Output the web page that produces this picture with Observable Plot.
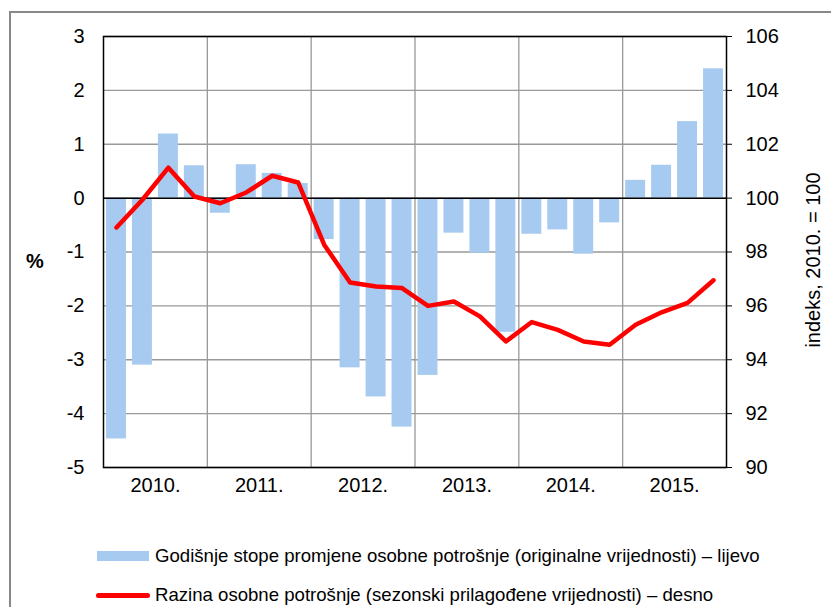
<!DOCTYPE html>
<html>
<head>
<meta charset="utf-8">
<script src="https://cdn.jsdelivr.net/npm/d3@7"></script>
<script src="https://cdn.jsdelivr.net/npm/@observablehq/plot@0.6"></script>
<style>
  html, body { margin: 0; padding: 0; background: #fff; }
  #wrap { position: relative; width: 831px; height: 607px; overflow: hidden; font-family: "Liberation Sans", Arial, sans-serif; color: #000; }
  #outer { position: absolute; left: 9px; top: 11px; width: 900px; height: 700px; border-top: 2px solid #888; border-left: 2px solid #888; box-sizing: border-box; }
  #chart { position: absolute; left: 0; top: 0; }
  .lab { position: absolute; font-size: 20px; white-space: nowrap; }
  .leg { position: absolute; left: 96px; height: 26px; display: flex; align-items: center; font-size: 18.6px; white-space: nowrap; }
  .sw { display: inline-block; }
</style>
</head>
<body>
<div id="wrap">
  <div id="outer"></div>
  <div id="chart"></div>
  <div class="lab" style="left:26px; top:250px; font-weight:bold;">%</div>
  <div class="lab" style="left:813px; top:260px; transform: translate(-50%,-50%) rotate(-90deg);">indeks, 2010. = 100</div>
  <div class="leg" style="top:543px;"><span class="sw" style="width:52px;height:10px;background:#A6CAF0;margin-left:1px;margin-right:6px;"></span><span id="leg1"></span></div>
  <div class="leg" style="top:582px;"><span class="sw" style="width:54px;height:5px;border-radius:3px;background:#FF0000;margin-right:5px;"></span><span id="leg2"></span></div>
</div>
<script>
const years = [2010, 2011, 2012, 2013, 2014, 2015];
const quarterLabels = ["Q1", "Q2", "Q3", "Q4"];
const growth = [-4.47, -3.10, 1.19, 0.60, -0.28, 0.62, 0.46, 0.27, -0.77, -3.15, -3.69, -4.25, -3.29, -0.65, -1.02, -2.49, -0.67, -0.59, -1.04, -0.46, 0.33, 0.61, 1.42, 2.40];
const level = [98.91, 99.94, 101.13, 100.06, 99.81, 100.21, 100.83, 100.58, 98.27, 96.87, 96.72, 96.66, 96.00, 96.16, 95.61, 94.68, 95.40, 95.11, 94.68, 94.56, 95.30, 95.76, 96.11, 96.95];
const leftTicks = [-5, -4, -3, -2, -1, 0, 1, 2, 3];
const rightTicks = [90, 92, 94, 96, 98, 100, 102, 104, 106];
const legendLabels = [
  "Godišnje stope promjene osobne potrošnje (originalne vrijednosti) – lijevo",
  "Razina osobne potrošnje (sezonski prilagođene vrijednosti) – desno"
];

document.getElementById("leg1").textContent = legendLabels[0];
document.getElementById("leg2").textContent = legendLabels[1];

const rows = [];
years.forEach((y, yi) => quarterLabels.forEach((q, qi) => {
  const i = yi * 4 + qi;
  rows.push({year: y, q, t: y + qi / 4, g: growth[i], lvl: level[i]});
}));

// map right axis (90..106) onto left axis (-5..3)
const toLeft = v => (v - 100) / 2;

const chart = Plot.plot({
  width: 831,
  height: 507,
  marginLeft: 103,
  marginRight: 105,
  marginTop: 36,
  marginBottom: 40,
  style: {fontFamily: "'Liberation Sans', Arial, sans-serif", fontSize: "20px", color: "#000", background: "transparent"},
  x: {domain: [2010, 2016]},
  y: {domain: [-5, 3]},
  marks: [
    Plot.gridY(leftTicks, {stroke: "#999", strokeOpacity: 1, strokeWidth: 1.3}),
    Plot.gridX(years.slice(1), {stroke: "#999", strokeOpacity: 1, strokeWidth: 1.3}),
    Plot.rectY(rows, {x1: "t", x2: d => d.t + 0.25, y1: 0, y2: "g", fill: "#A6CAF0", insetLeft: 3, insetRight: 3}),
    Plot.ruleY([0], {stroke: "#000", strokeWidth: 1.5}),
    Plot.lineY(rows, {x: d => d.t + 0.125, y: d => toLeft(d.lvl), stroke: "#FF0000", strokeWidth: 4.5, strokeLinejoin: "round"}),
    Plot.frame({stroke: "#000", strokeWidth: 1.5}),
    Plot.axisY(leftTicks, {anchor: "left", tickSize: 0, tickPadding: 19, fontSize: 20, label: null, tickFormat: d => String(d)}),
    Plot.axisY(leftTicks, {anchor: "right", tickSize: 5, tickPadding: 14, fontSize: 20, label: null, tickFormat: d => String(rightTicks[leftTicks.indexOf(d)])}),
    Plot.axisX(years.map(y => y + 0.5), {anchor: "bottom", tickSize: 0, tickPadding: 10, fontSize: 20, label: null, tickFormat: d => `${Math.floor(d)}.`})
  ]
});
document.getElementById("chart").appendChild(chart);
</script>
</body>
</html>
